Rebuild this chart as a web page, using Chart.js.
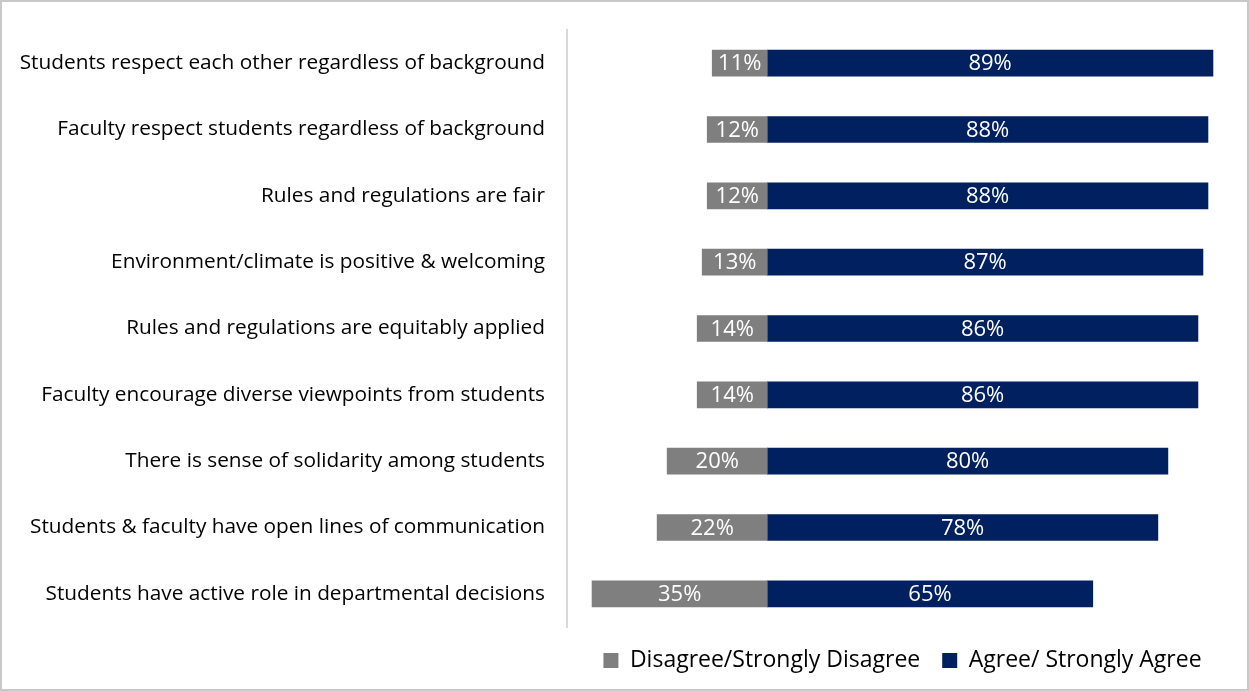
<!DOCTYPE html>
<html>
<head>
<meta charset="utf-8">
<script src="https://cdn.jsdelivr.net/npm/chart.js@4/dist/chart.umd.min.js"></script>
<style>
  html, body { margin: 0; padding: 0; background: #fff; }
  #wrap { width: 1249px; height: 691px; box-sizing: border-box; border: 2px solid #c8c8c8; overflow: hidden; }
  #chart { display: block; }
</style>
</head>
<body>
<div id="wrap"><canvas id="chart" width="1245" height="687"></canvas></div>
<script>
const categories = [
  'Students respect each other regardless of background',
  'Faculty respect students regardless of background',
  'Rules and regulations are fair',
  'Environment/climate is positive & welcoming',
  'Rules and regulations are equitably applied',
  'Faculty encourage diverse viewpoints from students',
  'There is sense of solidarity among students',
  'Students & faculty have open lines of communication',
  'Students have active role in departmental decisions'
];
const disagree = [11, 12, 12, 13, 14, 14, 20, 22, 35];
const agree = [89, 88, 88, 87, 86, 86, 80, 78, 65];

const FONT = '"Open Sans", Lato, sans-serif';

// white percentage text in the middle of every bar
const barLabels = {
  id: 'barLabels',
  afterDatasetsDraw(chart) {
    const ctx = chart.ctx;
    ctx.save();
    ctx.fillStyle = '#fff';
    ctx.font = '22px ' + FONT;
    ctx.textAlign = 'center';
    ctx.textBaseline = 'middle';
    chart.data.datasets.forEach((ds, i) => {
      chart.getDatasetMeta(i).data.forEach((bar, j) => {
        const v = Math.abs(ds.data[j]);
        const cx = (bar.x + bar.base) / 2;
        ctx.fillText(v + '%', cx, bar.y + 1);
      });
    });
    ctx.restore();
  }
};

new Chart(document.getElementById('chart').getContext('2d'), {
  type: 'bar',
  data: {
    labels: categories,
    datasets: [
      { label: 'Disagree/Strongly Disagree', data: disagree.map(v => -v), backgroundColor: '#7f7f7f' },
      { label: 'Agree/ Strongly Agree', data: agree, backgroundColor: '#002060' }
    ]
  },
  options: {
    indexAxis: 'y',
    responsive: false,
    animation: false,
    layout: { padding: { top: 28, right: 9, bottom: 7, left: 0 } },
    datasets: { bar: { barThickness: 26, borderWidth: 0 } },
    scales: {
      x: { display: false, stacked: true, min: -40, max: 94 },
      y: {
        stacked: true,
        grid: { display: false, drawTicks: false },
        border: { display: true, color: '#d9d9d9', width: 2 },
        ticks: { color: '#000', padding: 22, font: { family: FONT, size: 20.8 } },
        afterFit(s) {
          s.width = 565;
          s.paddingTop = 0;
          s.paddingBottom = 0;
        }
      }
    },
    plugins: {
      legend: {
        position: 'bottom',
        fullSize: false,
        labels: {
          color: '#000',
          boxWidth: 15,
          boxHeight: 15,
          padding: 22,
          font: { family: FONT, size: 23 }
        }
      },
      tooltip: { enabled: false }
    }
  },
  plugins: [barLabels]
});
</script>
</body>
</html>
